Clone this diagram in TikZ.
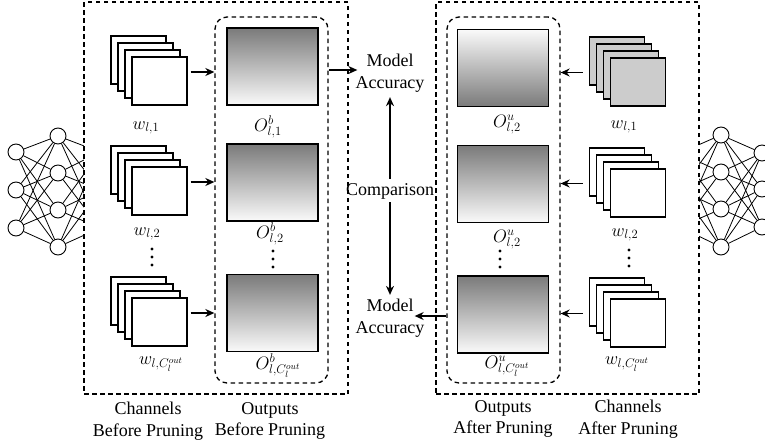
\documentclass[tikz,border=0pt]{standalone}
\usepackage{fix-cm}
\usepackage{fontspec}
\setmainfont{Liberation Serif}
\usetikzlibrary{arrows.meta}

% a stack of four kernels: #1 name, #2/#3 centre of the front kernel, #4 style
\newcommand\kernelstack[4]{%
  \foreach \k/\d in {1/21,2/14,3/7,4/0}
    \node[#4] (#1-\k) at (#2-\d,#3+\d) {};}
% three vertical dots: #1 name, #2/#3 centre
\newcommand\threedots[3]{%
  \foreach \k/\d in {1/8,2/0,3/-8}
    \node[dotmark] (#1-\k) at (#2,#3+\d) {};}

\begin{document}
\begin{tikzpicture}[x=1pt,y=1pt,
  txt/.style={font=\fontsize{18}{21.5}\selectfont,inner sep=0pt,align=center},
  neuron/.style={circle,draw,fill=white,minimum size=16pt,inner sep=0pt,line width=0.9pt},
  synapse/.style={line width=0.8pt},
  outerbox/.style={draw,fill=white,line width=1.4pt,dash pattern=on 4.5pt off 3.5pt,inner sep=0pt},
  innerbox/.style={draw,line width=1.3pt,dash pattern=on 4.5pt off 3.5pt,rounded corners=12pt,inner sep=0pt},
  kernel/.style={draw,fill=white,line width=1.3pt,minimum width=55pt,minimum height=48pt,inner sep=0pt},
  prunedkernel/.style={kernel,fill=black!20},
  fmap/.style={draw,line width=1.3pt,minimum width=91pt,minimum height=77pt,inner sep=0pt,
    top color=black!52,bottom color=black!2},
  fmapup/.style={fmap,top color=black!2,bottom color=black!52},
  dotmark/.style={circle,fill,inner sep=0pt,minimum size=3.4pt},
  arr/.style={-{Stealth[length=9pt,width=8pt]},line width=1.3pt}]

\useasboundingbox (0,0) rectangle (765,-445);

% ---- networks at both sides (partly hidden behind the boxes) ----
\foreach \i/\y in {1/152,2/190,3/228} \node[neuron] (la\i) at (16,-\y) {};
\foreach \i/\y in {1/136,2/173,3/210,4/247} \node[neuron] (lb\i) at (58,-\y) {};
\foreach \i/\y in {1/152,2/190,3/228} \coordinate (lc\i) at (100,-\y);
\foreach \i in {1,2,3} \foreach \j in {1,2,3,4} \draw[synapse] (la\i) -- (lb\j);
\foreach \j in {1,2,3,4} \foreach \i in {1,2,3} \draw[synapse] (lb\j) -- (lc\i);

\foreach \i/\y in {1/153,2/190,3/227} \coordinate (rd\i) at (680,-\y);
\foreach \i/\y in {1/135,2/172,3/209,4/247} \node[neuron] (re\i) at (721,-\y) {};
\foreach \i/\y in {1/153,2/189,3/227} \node[neuron] (rf\i) at (762,-\y) {};
\foreach \i in {1,2,3} \foreach \j in {1,2,3,4} \draw[synapse] (rd\i) -- (re\j);
\foreach \j in {1,2,3,4} \foreach \i in {1,2,3} \draw[synapse] (re\j) -- (rf\i);

% ---- outer and inner frames ----
\node[outerbox,minimum width=264pt,minimum height=392pt] (boxL) at (216,-198) {};
\node[outerbox,minimum width=263pt,minimum height=392pt] (boxR) at (567.5,-198) {};
\node[innerbox,minimum width=113pt,minimum height=366pt] (inL) at (271.5,-200) {};
\node[innerbox,minimum width=113pt,minimum height=366pt] (inR) at (503.5,-200) {};

% ---- channels before pruning ----
\kernelstack{ls1}{159.5}{-81}{kernel}
\kernelstack{ls2}{159.5}{-191}{kernel}
\kernelstack{ls3}{159.5}{-322}{kernel}
\node[txt,anchor=base] (lw1) at (146,-129) {$w_{l,1}$};
\node[txt,anchor=base] (lw2) at (147,-235) {$w_{l,2}$};
\node[txt,anchor=base] (lw3) at (161,-364) {$w_{l,C_l^{out}}$};
\threedots{ldc}{152}{-257}

% ---- outputs before pruning ----
\node[fmap] (oL1) at (272.5,-66.5) {};
\node[fmap] (oL2) at (272.5,-182.5) {};
\node[fmap] (oL3) at (272.5,-313) {};
\node[txt,anchor=base] (lo1) at (268,-131) {$O^b_{l,1}$};
\node[txt,anchor=base] (lo2) at (270,-238) {$O^b_{l,2}$};
\node[txt,anchor=base] (lo3) at (278,-369) {$O^b_{l,C_l^{out}}$};
\threedots{ldo}{273}{-259}

% ---- outputs after pruning ----
\node[fmapup] (oR1) at (503,-68) {};
\node[fmap] (oR2) at (503,-184) {};
\node[fmap] (oR3) at (503,-314.5) {};
\node[txt,anchor=base] (ro1) at (507,-127) {$O^u_{l,2}$};
\node[txt,anchor=base] (ro2) at (507,-242) {$O^u_{l,2}$};
\node[txt,anchor=base] (ro3) at (507,-368) {$O^u_{l,C_l^{out}}$};
\threedots{rdo}{500}{-259}

% ---- channels after pruning ----
\kernelstack{rs1}{638}{-82}{prunedkernel}
\kernelstack{rs2}{638}{-193}{kernel}
\kernelstack{rs3}{638}{-323}{kernel}
\node[txt,anchor=base] (rw1) at (624,-128) {$w_{l,1}$};
\node[txt,anchor=base] (rw2) at (625,-236) {$w_{l,2}$};
\node[txt,anchor=base] (rw3) at (627,-364) {$w_{l,C_l^{out}}$};
\threedots{rdc}{629}{-258}

% ---- accuracy comparison ----
\node[txt] (acc1) at (390,-73) {Model\\Accuracy};
\node[txt] (cmp) at (390,-191) {Comparison};
\node[txt] (acc2) at (390,-318) {Model\\Accuracy};

% ---- connectors ----
\foreach \s in {ls1,ls2,ls3}{
  \coordinate (\s-a) at ([shift={(3,9)}]\s-4.east);
  \draw[arr] (\s-a) -- (\s-a -| inL.west);}
\foreach \s in {rs1,rs2,rs3}{
  \coordinate (\s-a) at ([shift={(-27,9.5)}]\s-4.west);
  \draw[arr] (\s-a) -- (\s-a -| inR.east);}

\coordinate (acc1-in) at ([shift={(2,3)}]acc1.west);
\draw[arr] (inL.east |- acc1-in) -- (acc1-in);
\coordinate (acc2-in) at ([shift={(-10,2)}]acc2.east);
\draw[arr] (inR.west |- acc2-in) -- (acc2-in);

\draw[arr,shorten <=4pt,shorten >=5pt] (cmp.north) -- (acc1.south);
\draw[arr,shorten <=3pt,shorten >=4pt] (cmp.south) -- (acc2.north);

% ---- captions ----
\node[txt] (capA) at (148,-421) {Channels\\Before Pruning};
\node[txt] (capB) at (270,-421) {Outputs\\Before Pruning};
\node[txt] (capC) at (503,-419) {Outputs\\After Pruning};
\node[txt] (capD) at (628,-419) {Channels\\After Pruning};
\end{tikzpicture}
\end{document}
